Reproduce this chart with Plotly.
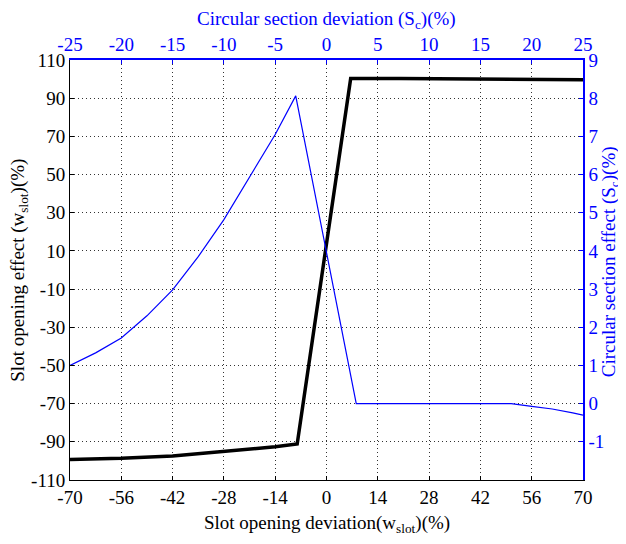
import plotly.graph_objects as go

# Black curve: slot opening effect vs slot opening deviation (bottom / left axes)
w_dev = [-70, -56, -42, -28, -14, -8, 6.6, 20, 42, 60, 70]
w_eff = [-99.2, -98.6, -97.4, -95.2, -92.6, -91.1, 100.3, 100.3, 100.2, 100.1, 99.7]

# Blue curve: circular section effect vs circular section deviation (top / right axes)
sc_dev = [-25, -22.5, -20, -17.5, -15, -12.5, -10, -7.5, -5, -3, 0, 2.9, 10, 18, 20, 22, 24, 25]
sc_eff = [1.0, 1.33, 1.72, 2.3, 2.98, 3.85, 4.82, 5.92, 7.05, 8.06, 4.0, 0.0, 0.0, 0.0, -0.07, -0.14, -0.24, -0.3]

bottom_ticks = [-70, -56, -42, -28, -14, 0, 14, 28, 42, 56, 70]
left_ticks = [-110, -90, -70, -50, -30, -10, 10, 30, 50, 70, 90, 110]
top_ticks = [-25, -20, -15, -10, -5, 0, 5, 10, 15, 20, 25]
right_ticks = [-1, 0, 1, 2, 3, 4, 5, 6, 7, 8, 9]

BLUE = "#0000FF"
FONT = "Liberation Serif"
TICK = 19
TITLE = 19


def labels(vals):
    return [str(v) for v in vals]


fig = go.Figure()
fig.add_trace(go.Scatter(x=w_dev, y=w_eff, mode="lines",
                         line=dict(color="black", width=3.5),
                         xaxis="x", yaxis="y", showlegend=False))
fig.add_trace(go.Scatter(x=sc_dev, y=sc_eff, mode="lines",
                         line=dict(color=BLUE, width=1.2),
                         xaxis="x2", yaxis="y2", showlegend=False))

grid = dict(showgrid=True, gridcolor="#333", griddash="1px,3px", gridwidth=1)

fig.update_layout(
    width=618, height=536,
    margin=dict(l=62, r=43, t=52, b=64),
    paper_bgcolor="white", plot_bgcolor="white",
    font=dict(family=FONT, size=TICK, color="black"),
    xaxis=dict(range=[-70, 70], tickvals=bottom_ticks, ticktext=labels(bottom_ticks),
               ticks="inside", ticklen=4,
               tickcolor="black", showline=True, linecolor="black", linewidth=1,
               zeroline=False, tickfont=dict(size=TICK, color="black"), **grid),
    yaxis=dict(range=[-110, 110], tickvals=left_ticks, ticktext=labels(left_ticks),
               ticks="inside", ticklen=4,
               tickcolor="black", showline=True, linecolor="black", linewidth=1,
               zeroline=False, tickfont=dict(size=TICK, color="black"), **grid),
    xaxis2=dict(range=[-25, 25], tickvals=top_ticks, ticktext=labels(top_ticks),
                ticks="inside", ticklen=4,
                tickcolor=BLUE, showline=True, linecolor=BLUE, linewidth=1.5,
                overlaying="x", side="top", anchor="y2", zeroline=False, showgrid=False,
                tickfont=dict(size=TICK, color=BLUE)),
    yaxis2=dict(range=[-2, 9], tickvals=right_ticks, ticktext=labels(right_ticks),
                ticks="inside", ticklen=4,
                tickcolor=BLUE, showline=True, linecolor=BLUE, linewidth=1.5,
                overlaying="y", side="right", anchor="x2", zeroline=False, showgrid=False,
                tickfont=dict(size=TICK, color=BLUE)),
    annotations=[
        dict(text="Slot opening deviation(w<sub>slot</sub>)(%)", xref="paper", yref="paper",
             x=0.5, y=-0.072, xanchor="center", yanchor="top", showarrow=False,
             font=dict(family=FONT, size=TITLE, color="black")),
        dict(text="Slot opening effect (w<sub>slot</sub>)(%)", xref="paper", yref="paper",
             x=-0.1, y=0.5, xanchor="center", yanchor="middle", textangle=-90, showarrow=False,
             font=dict(family=FONT, size=TITLE, color="black")),
        dict(text="Circular section deviation (S<sub>c</sub>)(%)", xref="paper", yref="paper",
             x=0.5, y=1.062, xanchor="center", yanchor="bottom", showarrow=False,
             font=dict(family=FONT, size=TITLE, color=BLUE)),
        dict(text="Circular section effect (S<sub>c</sub>)(%)", xref="paper", yref="paper",
             x=1.052, y=0.52, xanchor="center", yanchor="middle", textangle=-90, showarrow=False,
             font=dict(family=FONT, size=TITLE, color=BLUE)),
    ],
)

fig.write_html("out.html")
